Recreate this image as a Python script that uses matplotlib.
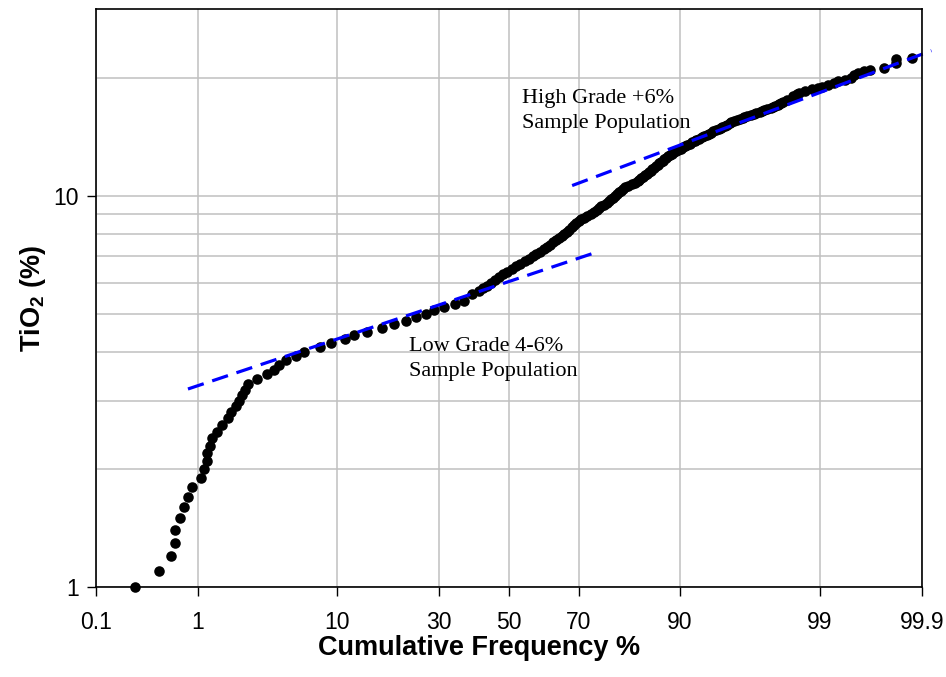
import math
from statistics import NormalDist
import numpy as np
import matplotlib
matplotlib.use('Agg')
import matplotlib.pyplot as plt

# TiO2 grade (%) and cumulative frequency (%)
tio2_tail = [1.0, 1.1, 1.2, 1.3, 1.4, 1.5, 1.6, 1.7, 1.8, 1.9,
             2.0, 2.1, 2.2, 2.3, 2.4, 2.5, 2.6, 2.7, 2.8, 2.9,
             3.0, 3.1, 3.2, 3.3, 3.4, 3.5, 3.6, 3.7, 3.8, 3.9,
             4.0, 4.1, 4.2, 4.3, 4.4, 4.5, 4.6, 4.7, 4.8, 4.9,
             5.0, 5.1, 5.2, 5.3, 5.4, 5.6, 5.7]
freq_tail = [0.26, 0.44, 0.57, 0.63, 0.63, 0.69, 0.76, 0.82, 0.89, 1.07,
             1.13, 1.20, 1.20, 1.27, 1.33, 1.45, 1.59, 1.79, 1.90, 2.07,
             2.19, 2.30, 2.41, 2.57, 2.98, 3.53, 3.93, 4.27, 4.81, 5.55,
             6.25, 7.93, 9.19, 11.1, 12.4, 14.5, 17.2, 19.5, 22.2, 24.5,
             26.9, 28.9, 31.3, 34.5, 36.8, 39.2, 41.1]

tio2_mid = [5.8, 5.9, 6.0, 6.1, 6.2, 6.3, 6.4, 6.5, 6.6, 6.7, 6.8, 6.9,
            7.0, 7.1, 7.2, 7.3, 7.4, 7.5, 7.6, 7.7, 7.8, 7.9,
            8.0, 8.1, 8.2, 8.3, 8.4, 8.5, 8.6, 8.7, 8.8, 8.9,
            9.0, 9.1, 9.2, 9.3, 9.4, 9.5, 9.6, 9.7, 9.8, 9.9,
            10.0, 10.1, 10.2, 10.3, 10.4, 10.5, 10.6, 10.7, 10.8, 10.9,
            11.0, 11.1, 11.2, 11.3, 11.4, 11.5, 11.6, 11.7, 11.8, 11.9]
freq_mid = [42.4, 43.6, 44.8, 46.0, 47.2, 48.4, 49.6, 50.9, 52.2, 53.5, 54.8, 56.1,
            57.2, 58.2, 59.2, 60.3, 61.3, 62.2, 63.0, 63.8, 64.6, 65.4,
            66.1, 66.9, 67.5, 68.1, 68.8, 69.4, 70.0, 70.6, 71.4, 72.2,
            73.0, 73.8, 74.5, 75.1, 75.6, 76.2, 76.8, 77.3, 77.8, 78.2,
            78.7, 79.1, 79.5, 79.9, 80.3, 80.8, 81.4, 82.1, 82.7, 83.3,
            83.6, 83.9, 84.3, 84.6, 84.9, 85.3, 85.6, 85.9, 86.2, 86.5]

tio2_high = [12.0, 12.1, 12.2, 12.3, 12.4, 12.5, 12.6, 12.7, 12.8, 12.9,
             13.0, 13.1, 13.2, 13.3, 13.4, 13.5, 13.6, 13.7, 13.8, 13.9,
             14.0, 14.1, 14.2, 14.3, 14.4, 14.5, 14.6, 14.7, 14.8, 14.9,
             15.0, 15.1, 15.2, 15.3, 15.4, 15.5, 15.6, 15.7, 15.8, 15.9,
             16.0, 16.1, 16.2, 16.3, 16.4, 16.5, 16.6, 16.7, 16.8, 16.9,
             17.0, 17.1, 17.2, 17.3, 17.4, 17.6, 18.0, 18.2, 18.3, 18.5,
             18.7, 18.9, 19.0, 19.2, 19.4, 19.6, 19.8, 20.0, 20.3, 20.6,
             20.8, 21.0, 21.2, 21.8, 22.3, 22.5]
freq_high = [86.8, 87.0, 87.3, 87.6, 87.8, 88.1, 88.4, 88.6, 88.9, 89.2,
             89.5, 89.8, 90.1, 90.4, 90.6, 90.9, 91.2, 91.5, 91.8, 92.0,
             92.3, 92.6, 92.8, 93.1, 93.3, 93.5, 93.7, 94.0, 94.2, 94.4,
             94.5, 94.7, 94.9, 95.1, 95.2, 95.4, 95.6, 95.8, 96.0, 96.1,
             96.3, 96.5, 96.7, 96.8, 97.0, 97.1, 97.2, 97.35, 97.5, 97.6,
             97.7, 97.8, 97.85, 97.93, 98.0, 98.12, 98.34, 98.46, 98.5, 98.68,
             98.84, 98.96, 99.04, 99.16, 99.25, 99.32, 99.41, 99.48, 99.51, 99.55,
             99.61, 99.66, 99.75, 99.81, 99.81, 99.874]

# dashed population trend lines (end points)
low_fit_freq = [0.82, 73.8]
low_fit_tio2 = [3.21, 7.14]
high_fit_freq = [68.25, 99.922]
high_fit_tio2 = [10.62, 23.48]

xticks = [0.1, 1, 10, 30, 50, 70, 90, 99, 99.9]
xtick_labels = ['0.1', '1', '10', '30', '50', '70', '90', '99', '99.9']
yticks = [1, 10]
yminor = [2, 3, 4, 5, 6, 7, 8, 9, 20]

_nd = NormalDist()


def _ppf1(q):
    if q != q:
        return float('nan')
    return _nd.inv_cdf(min(max(q, 1e-9), 1 - 1e-9))


_ppf = np.vectorize(_ppf1, otypes=[float])
_cdf = np.vectorize(lambda z: 0.5 * (1 + math.erf(z / math.sqrt(2))), otypes=[float])


def prob_fwd(p):
    return _ppf(np.asarray(p, dtype=float) / 100.0)


def prob_inv(z):
    return _cdf(np.asarray(z, dtype=float)) * 100.0


plt.rcParams['font.family'] = ['Liberation Sans', 'DejaVu Sans']
plt.rcParams['mathtext.fontset'] = 'custom'
plt.rcParams['mathtext.rm'] = 'Liberation Sans'
plt.rcParams['mathtext.bf'] = 'Liberation Sans:bold'

fig = plt.figure(figsize=(9.46, 6.77), dpi=100)
ax = fig.add_axes([0.10116, 0.1325, 0.87315, 0.85421])

ax.set_xscale('function', functions=(prob_fwd, prob_inv))
ax.set_yscale('log')
ax.set_xlim(0.1, 99.9)
ax.set_ylim(1, 30)

freq = freq_tail + freq_mid + freq_high
tio2 = tio2_tail + tio2_mid + tio2_high
ax.plot(freq, tio2, 'o', color='black', ms=7.6, mew=0, clip_on=False, zorder=3)

dash = (5.2, 2.8)
ax.plot(low_fit_freq, low_fit_tio2, color='#0000ff', lw=2.3,
        linestyle=(0, dash), zorder=4)
ax.plot(high_fit_freq, high_fit_tio2, color='#0000ff', lw=2.3,
        linestyle=(0, dash), zorder=4, clip_on=False)

ax.set_xticks(xticks)
ax.set_xticklabels(xtick_labels)
ax.xaxis.set_minor_locator(matplotlib.ticker.NullLocator())
ax.set_yticks(yticks)
ax.set_yticklabels(['1', '10'])
ax.set_yticks(yminor, minor=True)
ax.yaxis.set_minor_formatter(matplotlib.ticker.NullFormatter())

ax.tick_params(which='major', direction='out', length=6.3, width=1,
               labelsize=16.5, color='black')
ax.tick_params(axis='x', which='major', pad=11)
ax.tick_params(axis='y', which='major', pad=6)
ax.tick_params(which='minor', length=0)

ax.grid(True, axis='x', which='major', color='#c0c0c0', lw=1.1)
ax.grid(True, axis='y', which='both', color='#c0c0c0', lw=1.1)
ax.set_axisbelow(True)
for s in ax.spines.values():
    s.set_linewidth(1.2)
    s.set_zorder(5)

ax.set_xlabel('Cumulative Frequency %', fontsize=19.5, fontweight='bold')
ax.xaxis.set_label_coords(0.4647, -0.082)
ax.set_ylabel(r'TiO$_\mathbf{2}$ (%)', fontsize=19.5, fontweight='bold')
ax.yaxis.set_label_coords(-0.058, 0.5)

ax.text(0.5157, 0.862, 'High Grade +6%\nSample Population', transform=ax.transAxes,
        family='Liberation Serif', fontsize=16, va='top', ha='left', linespacing=1.42)
ax.text(0.3793, 0.432, 'Low Grade 4-6%\nSample Population', transform=ax.transAxes,
        family='Liberation Serif', fontsize=16, va='top', ha='left', linespacing=1.42)

fig.savefig('out.png', dpi=100)
